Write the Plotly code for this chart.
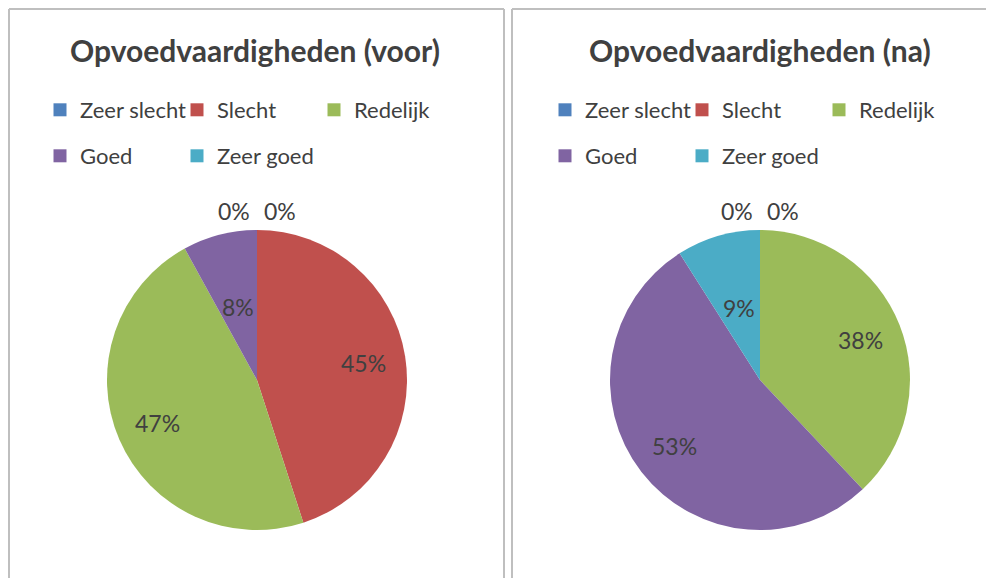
import math
import plotly.graph_objects as go

categories = ["Zeer slecht", "Slecht", "Redelijk", "Goed", "Zeer goed"]
colors = ["#4F81BD", "#C0504D", "#9BBB59", "#8064A2", "#4BACC6"]
voor_values = [0, 45, 47, 8, 0]
na_values = [0, 0, 38, 53, 9]
titles = ["Opvoedvaardigheden (voor)", "Opvoedvaardigheden (na)"]

W, H = 994, 578
OFF = 8  # page body margin offset
FONT = "Lato"
TXT = "#404040"

def px_x(p):
    return (p - OFF) / W

def px_y(p):
    return 1 - (p - OFF) / H

fig = go.Figure()

R = 150
centers = [(257, 380), (760, 380)]

for vals, (cx, cy) in zip([voor_values, na_values], centers):
    dom = dict(x=[px_x(cx - R), px_x(cx + R)], y=[px_y(cy + R), px_y(cy - R)])
    fig.add_trace(go.Pie(
        labels=categories, values=vals, sort=False, direction="clockwise",
        rotation=0, domain=dom, showlegend=False,
        marker=dict(colors=colors, line=dict(width=0)),
        textinfo="none",
        hoverinfo="label+percent",
    ))
    # data labels derived from the values
    total = float(sum(vals))
    cum = 0.0
    zero_count = 0
    for v in vals:
        frac = v / total
        if v == 0:
            ang = cum * 2 * math.pi
            side = 1 if zero_count % 2 == 0 else -1
            zero_count += 1
            fig.add_annotation(
                text="%d%%" % v, x=px_x(cx), y=px_y(cy - R), xref="paper", yref="paper",
                showarrow=False, xanchor="left" if side > 0 else "right", yanchor="middle",
                xshift=5 * side, yshift=19,
                font=dict(family=FONT, size=23, color=TXT))
        else:
            mid = (cum + frac / 2) * 2 * math.pi
            rr = 0.72 * R if frac > 0.15 else 0.5 * R
            lx = cx + rr * math.sin(mid)
            ly = cy - rr * math.cos(mid)
            fig.add_annotation(
                text="%d%%" % v, x=px_x(lx), y=px_y(ly), xref="paper", yref="paper",
                showarrow=False, xanchor="center", yanchor="middle",
                font=dict(family=FONT, size=23, color=TXT))
        cum += frac

# legend entries (two rows per panel)
rows = [categories[:3], categories[3:]]
legend_names = [["legend", "legend2"], ["legend3", "legend4"]]
for p in range(2):
    for r in range(2):
        for c in rows[r]:
            fig.add_trace(go.Scatter(
                x=[None], y=[None], mode="markers", name=c,
                marker=dict(symbol="square", size=13, color=colors[categories.index(c)]),
                legend=legend_names[p][r], showlegend=True,
            ))

leg_common = dict(orientation="h", xanchor="left", yanchor="middle",
                  font=dict(family=FONT, size=22, color=TXT),
                  entrywidth=92, entrywidthmode="pixels",
                  bgcolor="rgba(0,0,0,0)", itemclick=False, itemdoubleclick=False)
lx = [px_x(40), px_x(545)]
ly = [px_y(110), px_y(156)]
fig.update_layout(
    legend=dict(x=lx[0], y=ly[0], **leg_common),
    legend2=dict(x=lx[0], y=ly[1], **leg_common),
    legend3=dict(x=lx[1], y=ly[0], **leg_common),
    legend4=dict(x=lx[1], y=ly[1], **leg_common),
)

# titles
for t, cx in zip(titles, [255, 760]):
    fig.add_annotation(text="<b>%s</b>" % t, x=px_x(cx), y=px_y(50), xref="paper", yref="paper",
                       showarrow=False, xanchor="center", yanchor="middle",
                       font=dict(family=FONT, size=30, color=TXT))

# panel borders
line = dict(color="#BFBFBF", width=2)
for x0, x1, right in [(9, 504, True), (512, 1010, False)]:
    fig.add_shape(type="line", xref="paper", yref="paper", x0=px_x(x0), x1=px_x(x0), y0=-0.1, y1=px_y(9), line=line)
    fig.add_shape(type="line", xref="paper", yref="paper", x0=px_x(x0), x1=px_x(x1), y0=px_y(9), y1=px_y(9), line=line)
    if right:
        fig.add_shape(type="line", xref="paper", yref="paper", x0=px_x(x1), x1=px_x(x1), y0=-0.1, y1=px_y(9), line=line)

fig.update_layout(
    width=W, height=H, margin=dict(l=0, r=0, t=0, b=0),
    paper_bgcolor="white", plot_bgcolor="white",
    xaxis=dict(visible=False), yaxis=dict(visible=False),
    font=dict(family=FONT, color=TXT),
)

fig.write_html("out.html")
